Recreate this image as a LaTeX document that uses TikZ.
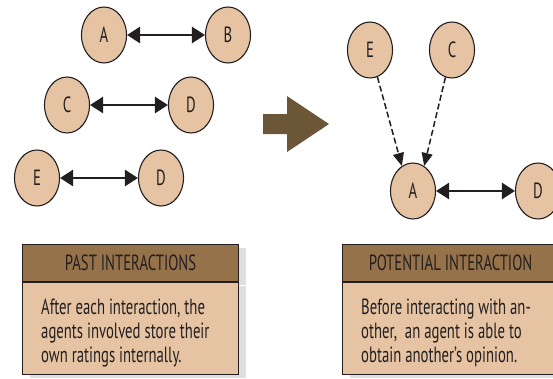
\documentclass[tikz,border=0pt]{standalone}
\usepackage{fontspec}
\setmainfont{PT Sans}[FakeStretch=0.67]
\usetikzlibrary{arrows.meta,shapes.geometric,shadows}

\definecolor{agentfill}{RGB}{230,196,163}
\definecolor{headfill}{RGB}{150,114,74}
\definecolor{arrowbrown}{RGB}{107,87,55}
\definecolor{inkgrey}{RGB}{35,31,32}

\tikzset{
    agent/.style={ellipse, draw=inkgrey, line width=1.1pt, fill=agentfill,
        minimum width=45pt, minimum height=56pt, inner sep=0pt,
        font=\fontsize{22}{22}\selectfont, text=inkgrey},
    exchange/.style={{Triangle[width=16pt,length=13pt]}-{Triangle[width=16pt,length=13pt]},
        line width=2.6pt, draw=inkgrey},
    opinion/.style={-{Triangle[width=11pt,length=13pt]}, line width=1.5pt,
        dash pattern=on 6pt off 3pt, draw=inkgrey},
    headbox/.style={draw=inkgrey, line width=1.1pt, fill=headfill,
        minimum width=216pt, minimum height=37pt, inner sep=0pt,
        font=\fontsize{22}{22}\selectfont, text=inkgrey,
        drop shadow={shadow xshift=7pt, shadow yshift=-3pt, opacity=0.25}},
    bodybox/.style={draw=inkgrey, line width=1.1pt, fill=agentfill,
        minimum width=216pt, minimum height=92pt, inner sep=0pt,
        drop shadow={shadow xshift=7pt, shadow yshift=-3pt, opacity=0.25}},
    bodytext/.style={anchor=west, xshift=19pt, yshift=-4pt, inner sep=0pt,
        align=left, font=\fontsize{22}{24}\selectfont, text=inkgrey}
}

\begin{document}
\begin{tikzpicture}[x=1pt, y=-1pt]
    \useasboundingbox (0,0) rectangle (553,378);

    % Past pairs
    \node[agent] (la) at (104,35) {A};
    \node[agent] (lb) at (228,35) {B};
    \node[agent] (lc) at (67,105) {C};
    \node[agent] (ld1) at (191,105) {D};
    \node[agent] (le) at (37,178) {E};
    \node[agent] (ld2) at (161,178) {D};
    \draw[exchange] (la) -- (lb);
    \draw[exchange] (lc) -- (ld1);
    \draw[exchange] (le) -- (ld2);

    % Big arrow
    \fill[arrowbrown] (263,114) -- (287,114) -- (287,96) -- (329,124)
        -- (287,152) -- (287,134) -- (263,134) -- cycle;

    % Potential interaction
    \node[agent] (re) at (370,50) {E};
    \node[agent] (rc) at (452,50) {C};
    \node[agent] (ra) at (413,191) {A};
    \node[agent] (rd) at (538,191) {D};
    \draw[opinion] (re) -- (ra.114);
    \draw[opinion] (rc) -- (ra.66);
    \draw[exchange] (ra) -- (rd);

    % Captions
    \node[headbox, anchor=north west] (pasthead) at (22,244) {PAST INTERACTIONS};
    \node[bodybox, anchor=north] (pastbody) at (pasthead.south) {};
    \node[bodytext] (pasttext) at (pastbody.west)
        {After each interaction, the\\agents involved store their\\own ratings internally.};
    \node[headbox, anchor=north west] (pothead) at (342,244) {POTENTIAL INTERACTION};
    \node[bodybox, anchor=north] (potbody) at (pothead.south) {};
    \node[bodytext] (pottext) at (potbody.west)
        {Before interacting with an-\\other,~ an agent is able to\\obtain another’s opinion.};
\end{tikzpicture}
\end{document}
